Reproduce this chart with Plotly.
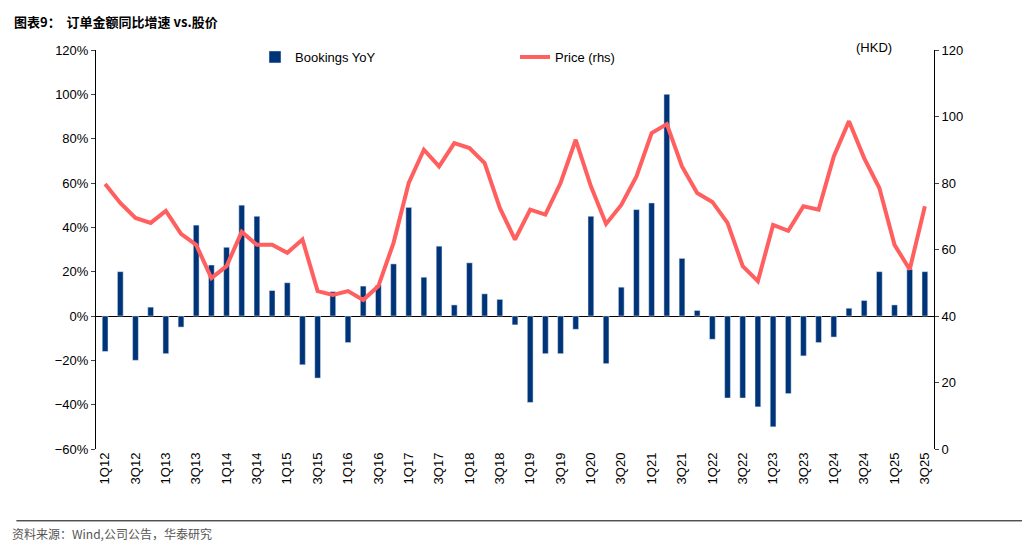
import plotly.graph_objects as go

quarters = [f"{q}Q{y:02d}" for y in range(12, 26) for q in range(1, 5)][:55]
bookings_yoy = [-16, 20, -20, 4, -17, -5, 41, 23, 31, 50, 45, 11.5, 15, -22, -28, 11,
                -12, 13.5, 14, 23.5, 49, 17.5, 31.5, 5, 24, 10, 7.5, -4, -39, -17, -17, -6,
                45, -21.5, 13, 48, 51, 100, 26, 2.5, -10.5, -37, -37, -41, -50, -35, -18, -12,
                -9.5, 3.5, 7, 20, 5, 21, 20]
price = [79.7, 74, 69.5, 68, 71.6, 64.7, 61.4, 51.4, 55, 65.3, 61.4, 61.4, 59, 63, 47.5, 46.3,
         47.5, 44.8, 49, 62, 80, 90, 85, 92, 90.5, 86, 72.5, 63, 72, 70.5, 80, 93,
         79, 67.7, 73.4, 82, 95, 97.7, 85, 77, 74.3, 68, 55, 50.5, 67.4, 65.6, 73, 72,
         88, 98.6, 87.5, 78.5, 61.4, 54, 73]
tick_labels = quarters[::2]

fig = go.Figure()
fig.add_trace(go.Bar(x=quarters, y=bookings_yoy, name="Bookings YoY", marker_color="#003478",
                     width=0.38))
fig.add_trace(go.Scatter(x=quarters, y=price, name="Price (rhs)", yaxis="y2", mode="lines",
                         line=dict(color="#FF5F5F", width=4)))

font = dict(family="Liberation Sans, Arial", size=13, color="black")
fig.update_layout(
    width=1030, height=548, margin=dict(l=88, r=104, t=42, b=107),
    plot_bgcolor="white", paper_bgcolor="white", font=font, bargap=0.6,
    showlegend=True,
    legend=dict(orientation="h", x=0.5, xanchor="center", y=1.02, yanchor="top",
                font=dict(size=13), bgcolor="rgba(0,0,0,0)", entrywidth=215),
    xaxis=dict(tickmode="array", tickvals=tick_labels, ticktext=tick_labels, tickangle=-90,
               showline=False, ticks="", showgrid=False, range=[-0.6, 54.6]),
    yaxis=dict(range=[-60, 120], dtick=20, ticksuffix="%", showgrid=False, zeroline=True,
               zerolinecolor="black", zerolinewidth=1, showline=True, linecolor="black",
               ticks="outside", ticklen=4),
    yaxis2=dict(overlaying="y", side="right", range=[0, 120], dtick=20, showgrid=False,
                showline=True, linecolor="black", ticks="outside", ticklen=4),
    annotations=[
        dict(text="<b>图表9：  订单金额同比增速 vs.股价</b>", x=0, y=1, xref="paper", yref="paper",
             xanchor="left", yanchor="top", showarrow=False, xshift=-84, yshift=40,
             font=dict(family="Noto Sans CJK SC", size=13, color="black")),
        dict(text="(HKD)", x=1, y=1, xref="paper", yref="paper", xanchor="right", yanchor="top",
             showarrow=False, xshift=-40, yshift=12, font=dict(size=13)),
        dict(text="资料来源：Wind,公司公告，华泰研究", x=0, y=0, xref="paper", yref="paper",
             xanchor="left", yanchor="top", showarrow=False, xshift=-86, yshift=-74,
             font=dict(family="Noto Sans CJK SC", size=12, color="#555")),
    ],
    shapes=[
        dict(type="line", xref="paper", yref="paper", x0=-0.095, x1=1.12, y0=-0.18, y1=-0.18,
             line=dict(color="black", width=1)),
    ],
)
fig.write_html("out.html")
